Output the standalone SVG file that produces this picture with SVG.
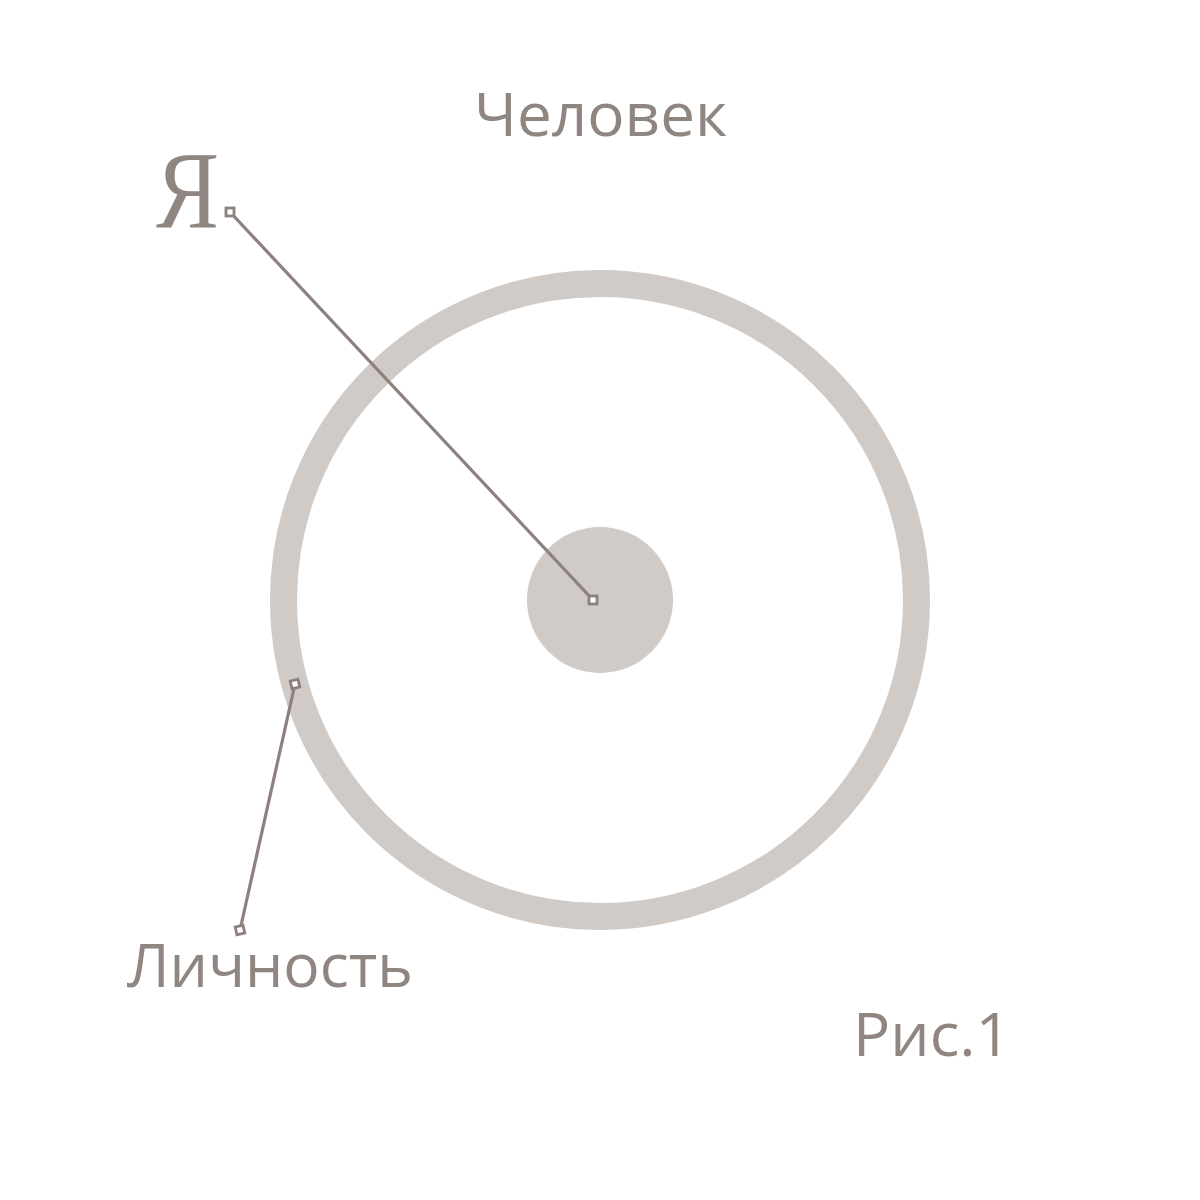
<svg xmlns="http://www.w3.org/2000/svg" width="1200" height="1200" viewBox="0 0 1200 1200">
<style>
.lbl{font-family:"Open Sans","Liberation Sans",sans-serif;font-size:61px;fill:#8f8581;}
.big{font-family:"Liberation Serif","DejaVu Serif",serif;font-size:110px;fill:#8f8581;}
.con{stroke:#8c817d;stroke-width:3.2;fill:none;}
.end{stroke:#8c817d;stroke-width:2.8;fill:#ffffff;}
</style>
<rect width="1200" height="1200" fill="#ffffff"/>
<g id="ring">
<circle cx="600" cy="600" r="316.5" fill="none" stroke="#d1cbc7" stroke-width="27"/>
</g>
<g id="core">
<circle cx="600" cy="600" r="73" fill="#d1cbc7"/>
</g>
<g id="title-chelovek">
<text class="lbl" x="474" y="136" textLength="253" lengthAdjust="spacingAndGlyphs">Человек</text>
</g>
<g id="label-ya">
<text class="big" x="156" y="228" textLength="63" lengthAdjust="spacingAndGlyphs">Я</text>
</g>
<g id="label-lichnost">
<text class="lbl" x="127" y="987" textLength="286" lengthAdjust="spacingAndGlyphs">Личность</text>
</g>
<g id="caption">
<text class="lbl" x="853" y="1056" textLength="158" lengthAdjust="spacingAndGlyphs">Рис.1</text>
</g>
<g id="connectors">
<line class="con" x1="230" y1="212" x2="593" y2="600"/>
<rect class="end" x="226" y="208" width="8" height="8"/>
<rect class="end" x="589" y="596" width="8" height="8"/>
<line class="con" x1="295" y1="684" x2="240" y2="930"/>
<rect class="end" x="-4" y="-4" width="8" height="8" transform="translate(295 684) rotate(-13)"/>
<rect class="end" x="-4" y="-4" width="8" height="8" transform="translate(240 930) rotate(-13)"/>
</g>
</svg>
